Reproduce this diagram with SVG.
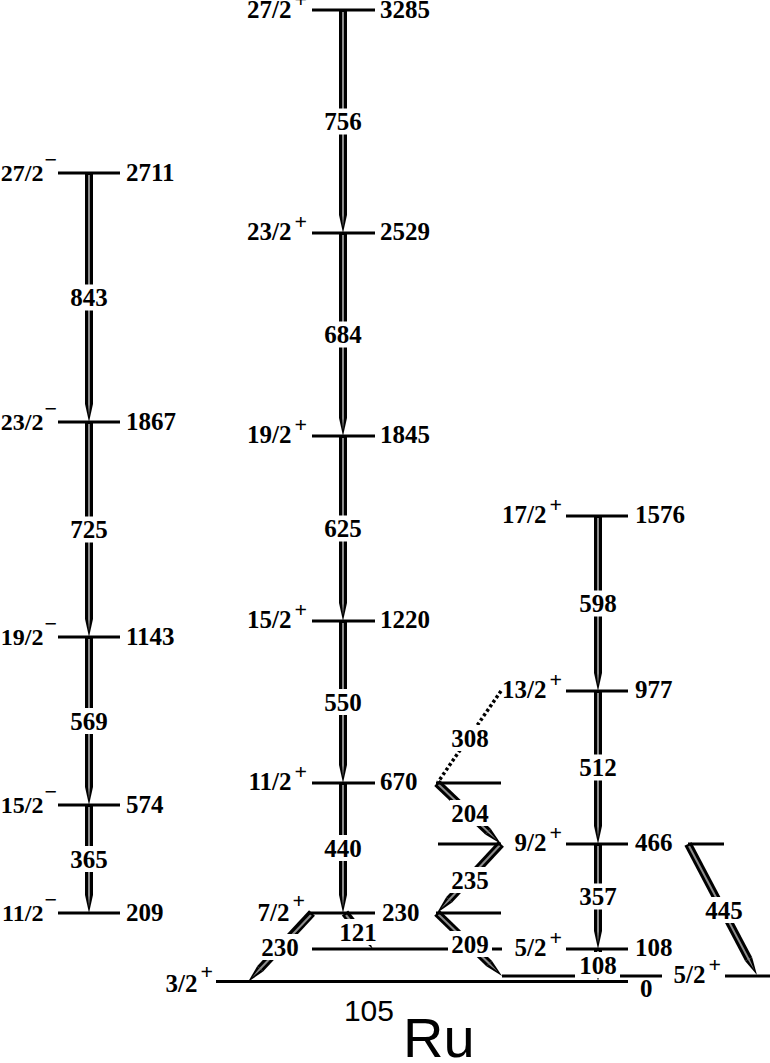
<svg xmlns="http://www.w3.org/2000/svg" width="770" height="1063" viewBox="0 0 770 1063">
<style>
.lvl{stroke:#000;stroke-width:3;fill:none}
.t{font-family:"Liberation Serif","Times New Roman",serif;font-weight:bold;font-size:25px;fill:#000}
.sm{font-size:24px}
.sup{font-size:22px}
.sh{stroke:#000;stroke-width:8;fill:none;marker-end:url(#ah)}
.in{stroke:#8c8c8c;stroke-width:2;fill:none}
.dot{stroke:#000;stroke-width:3.5;fill:none;stroke-dasharray:3 2.5}
.bg{fill:#fff}
.tl{text-anchor:middle}
</style>
<defs>
<marker id="ah" markerUnits="userSpaceOnUse" viewBox="0 -5 20 10" markerWidth="20" markerHeight="10" refX="0" refY="0" orient="auto" overflow="visible">
<polygon points="0,-4 18,0 0,4" fill="#000"/>
<polygon points="0,-1 12,0 0,1" fill="#8c8c8c"/>
</marker>
</defs>
<rect width="770" height="1063" fill="#fff"/>

<g id="transitions">
<path class="sh" d="M89 173V404"/><path class="in" d="M89 175V404"/>
<path class="sh" d="M89 422V619"/><path class="in" d="M89 424V619"/>
<path class="sh" d="M89 637V787"/><path class="in" d="M89 639V787"/>
<path class="sh" d="M89 805V895"/><path class="in" d="M89 807V895"/>
<path class="sh" d="M343 10V215"/><path class="in" d="M343 12V215"/>
<path class="sh" d="M343 233V418"/><path class="in" d="M343 235V418"/>
<path class="sh" d="M343 436V603"/><path class="in" d="M343 438V603"/>
<path class="sh" d="M343 621V765"/><path class="in" d="M343 623V765"/>
<path class="sh" d="M343 783V895"/><path class="in" d="M343 785V895"/>
<path class="sh" d="M598 516V673"/><path class="in" d="M598 518V673"/>
<path class="sh" d="M598 691V826"/><path class="in" d="M598 693V826"/>
<path class="sh" d="M598 844V931"/><path class="in" d="M598 846V931"/>
<path class="sh" d="M598 949V963"/><path class="in" d="M598 951V963"/>
<path class="sh" d="M312 913L260.2 968.8"/><path class="in" d="M311 915L260.2 968.8"/>
<path class="sh" d="M345 913L361.9 934.8"/><path class="in" d="M346 915L361.9 934.8"/>
<path class="sh" d="M437 913L489.1 963.5"/><path class="in" d="M438.5 914.5L489.1 963.5"/>
<path class="sh" d="M501 844L449.2 899.8"/><path class="in" d="M499.6 845.5L449.2 899.8"/>
<path class="sh" d="M437 783L488 831.6"/><path class="in" d="M438.5 784.5L488 831.6"/>
<path class="sh" d="M688 844L748.6 959.1"/><path class="in" d="M689 846L748.6 959.1"/>
<path class="dot" d="M501 691L438 782"/>

<rect class="bg" x="69" y="284.5" width="40" height="26"/><text class="t tl" x="89" y="306">843</text>
<rect class="bg" x="69" y="516.5" width="40" height="26"/><text class="t tl" x="89" y="538">725</text>
<rect class="bg" x="69" y="708" width="40" height="26"/><text class="t tl" x="89" y="729.5">569</text>
<rect class="bg" x="69" y="846" width="40" height="26"/><text class="t tl" x="89" y="867.5">365</text>
<rect class="bg" x="323" y="108.5" width="40" height="26"/><text class="t tl" x="343" y="130">756</text>
<rect class="bg" x="323" y="321.5" width="40" height="26"/><text class="t tl" x="343" y="343">684</text>
<rect class="bg" x="323" y="515.5" width="40" height="26"/><text class="t tl" x="343" y="537">625</text>
<rect class="bg" x="323" y="689" width="40" height="26"/><text class="t tl" x="343" y="710.5">550</text>
<rect class="bg" x="323" y="835" width="40" height="26"/><text class="t tl" x="343" y="856.5">440</text>
<rect class="bg" x="578" y="590.5" width="40" height="26"/><text class="t tl" x="598" y="612">598</text>
<rect class="bg" x="578" y="754.5" width="40" height="26"/><text class="t tl" x="598" y="776">512</text>
<rect class="bg" x="578" y="883.5" width="40" height="26"/><text class="t tl" x="598" y="905">357</text>
<rect class="bg" x="578" y="952" width="40" height="26"/><text class="t tl" x="598" y="973.5">108</text>
<rect class="bg" x="260" y="934" width="40" height="26"/><text class="t tl" x="280" y="955.5">230</text>
<rect class="bg" x="338" y="919" width="40" height="26"/><text class="t tl" x="358" y="940.5">121</text>
<rect class="bg" x="450" y="931" width="40" height="26"/><text class="t tl" x="470" y="952.5">209</text>
<rect class="bg" x="450" y="867" width="40" height="26"/><text class="t tl" x="470" y="888.5">235</text>
<rect class="bg" x="450" y="800" width="40" height="26"/><text class="t tl" x="470" y="821.5">204</text>
<rect class="bg" x="704" y="897" width="40" height="26"/><text class="t tl" x="724" y="918.5">445</text>
<rect class="bg" x="450" y="725" width="40" height="26"/><text class="t tl" x="470" y="746.5">308</text>
</g>

<g id="lvl-2711"><path class="lvl" d="M58 173H120"/><text class="t sm" x="57" y="181" text-anchor="end">27/2<tspan class="sup" dx="1" dy="-14">−</tspan></text><text class="t" x="126" y="181">2711</text></g>
<g id="lvl-1867"><path class="lvl" d="M58 422H120"/><text class="t sm" x="57" y="430" text-anchor="end">23/2<tspan class="sup" dx="1" dy="-14">−</tspan></text><text class="t" x="126" y="430">1867</text></g>
<g id="lvl-1143"><path class="lvl" d="M58 637H120"/><text class="t sm" x="57" y="645" text-anchor="end">19/2<tspan class="sup" dx="1" dy="-14">−</tspan></text><text class="t" x="126" y="645">1143</text></g>
<g id="lvl-574"><path class="lvl" d="M58 805H120"/><text class="t sm" x="57" y="813" text-anchor="end">15/2<tspan class="sup" dx="1" dy="-14">−</tspan></text><text class="t" x="126" y="813">574</text></g>
<g id="lvl-209"><path class="lvl" d="M58 913H120"/><text class="t sm" x="57" y="921" text-anchor="end">11/2<tspan class="sup" dx="1" dy="-14">−</tspan></text><text class="t" x="126" y="921">209</text></g>

<g id="lvl-3285"><path class="lvl" d="M312 10H375"/><text class="t" x="307" y="18" text-anchor="end">27/2<tspan class="sup" dx="3" dy="-11.5">+</tspan></text><text class="t" x="380" y="18">3285</text></g>
<g id="lvl-2529"><path class="lvl" d="M312 233H375"/><text class="t" x="307" y="240" text-anchor="end">23/2<tspan class="sup" dx="3" dy="-11.5">+</tspan></text><text class="t" x="380" y="240">2529</text></g>
<g id="lvl-1845"><path class="lvl" d="M312 436H375"/><text class="t" x="307" y="443" text-anchor="end">19/2<tspan class="sup" dx="3" dy="-11.5">+</tspan></text><text class="t" x="380" y="443">1845</text></g>
<g id="lvl-1220"><path class="lvl" d="M312 621H375"/><text class="t" x="307" y="628" text-anchor="end">15/2<tspan class="sup" dx="3" dy="-11.5">+</tspan></text><text class="t" x="380" y="628">1220</text></g>
<g id="lvl-670"><path class="lvl" d="M312 783H375M436 783H501"/><text class="t" x="307" y="790" text-anchor="end">11/2<tspan class="sup" dx="3" dy="-11.5">+</tspan></text><text class="t" x="380" y="790">670</text></g>
<g id="lvl-230"><path class="lvl" d="M308 913H375M436 913H501"/><text class="t" x="305" y="921" text-anchor="end">7/2<tspan class="sup" dx="3" dy="-13">+</tspan></text><text class="t" x="382" y="921">230</text></g>

<g id="lvl-1576"><path class="lvl" d="M566 516H628"/><text class="t" x="562" y="523" text-anchor="end">17/2<tspan class="sup" dx="3" dy="-11.5">+</tspan></text><text class="t" x="635" y="523">1576</text></g>
<g id="lvl-977"><path class="lvl" d="M566 691H628"/><text class="t" x="562" y="698" text-anchor="end">13/2<tspan class="sup" dx="3" dy="-11.5">+</tspan></text><text class="t" x="635" y="698">977</text></g>
<g id="lvl-466"><path class="lvl" d="M566 844H628M438 844H501M688 844H724"/><text class="t" x="562" y="851" text-anchor="end">9/2<tspan class="sup" dx="3" dy="-11.5">+</tspan></text><text class="t" x="635" y="851">466</text></g>
<g id="lvl-108"><path class="lvl" d="M312 949H448M492 949H502M566 949H628"/><text class="t" x="562" y="956" text-anchor="end">5/2<tspan class="sup" dx="3" dy="-11.5">+</tspan></text><text class="t" x="635" y="956">108</text></g>
<g id="lvl-21"><path class="lvl" d="M502 976H575M620 976H662M725 976H770"/><text class="t" x="721" y="983" text-anchor="end">5/2<tspan class="sup" dx="3" dy="-11.5">+</tspan></text></g>
<g id="lvl-0"><path class="lvl" d="M216 981.5H628"/><text class="t" x="213" y="992" text-anchor="end">3/2<tspan class="sup" dx="3" dy="-13">+</tspan></text><text class="t" x="640" y="997">0</text></g>

<g id="title">
<text x="394" y="1021" text-anchor="end" font-family="Liberation Sans, Arial, sans-serif" font-size="30">105</text>
<text x="403" y="1057" font-family="Liberation Sans, Arial, sans-serif" font-size="56">Ru</text>
</g>
</svg>
